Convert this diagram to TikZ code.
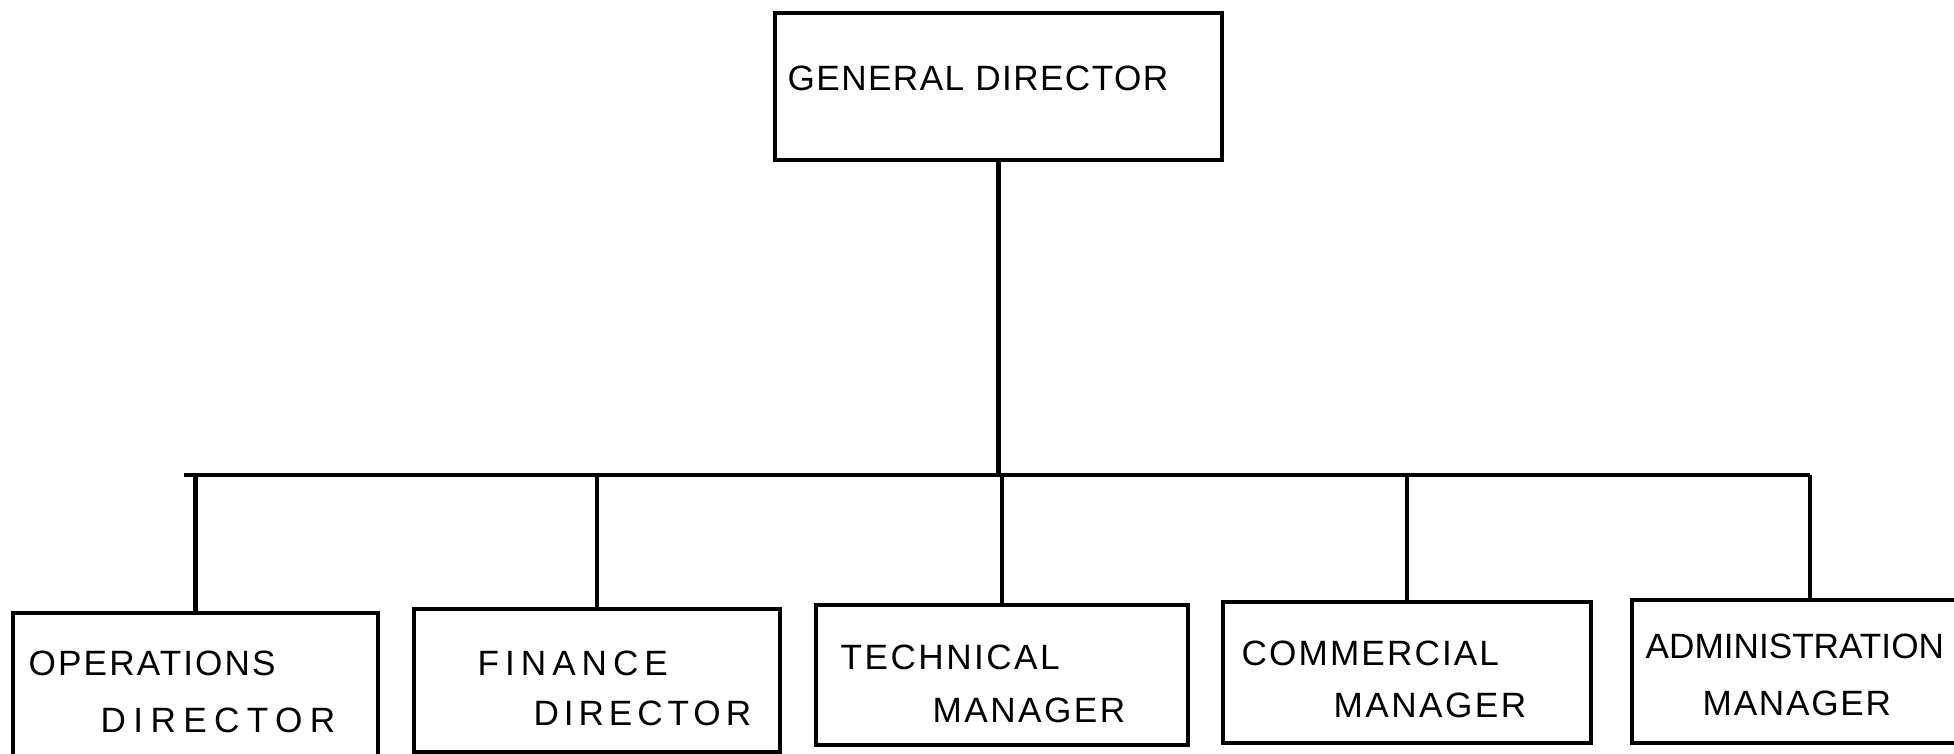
\documentclass[tikz,border=0pt]{standalone}
\usepackage{fontspec}
\setmainfont{Liberation Sans}
\usetikzlibrary{positioning,calc}

\newcommand{\spaced}[2]{{\addfontfeature{LetterSpace=#1}#2}}
\tikzset{
	box/.style={draw, line width=1.05pt, rectangle, inner sep=0pt},
	link/.style={line width=1.35pt},
	lbl/.style={anchor=west, inner sep=0pt, font=\fontsize{10}{12}\selectfont}
}

\begin{document}
\begin{tikzpicture}[x=0.01cm,y=-0.01cm]
					\useasboundingbox (0,0) rectangle (1954,753);
					
					% Top box
					\node[box, minimum width=4.47cm, minimum height=1.47cm] (gd) at (998.5,86.5) {};
					\node[lbl] (gd-t) at (787,78) {\spaced{4}{GENERAL DIRECTOR}};
					
					% Bottom boxes
					\node[box, minimum width=3.65cm, minimum height=1.45cm] (ops) at (195.5,685.5) {};
					\node[box, minimum width=3.66cm, minimum height=1.43cm] (fin) at (597,680.5) {};
					\node[box, minimum width=3.72cm, minimum height=1.40cm] (tec) at (1002,675) {};
					\node[box, minimum width=3.68cm, minimum height=1.41cm] (com) at (1407,672.5) {};
					\node[box, minimum width=3.56cm, minimum height=1.43cm] (adm) at (1810,671.5) {};
					
					\node[lbl] (ops-1) at (28,663) {\spaced{6}{OPERATIONS}};
					\node[lbl] (ops-2) at (100,720) {\spaced{21}{DIRECTOR}};
					\node[lbl] (fin-1) at (477,663) {\spaced{17}{FINANCE}};
					\node[lbl] (fin-2) at (533,713) {\spaced{14}{DIRECTOR}};
					\node[lbl] (tec-1) at (840,657) {\spaced{7}{TECHNICAL}};
					\node[lbl] (tec-2) at (932,710) {\spaced{7}{MANAGER}};
					\node[lbl] (com-1) at (1241,653) {\spaced{6}{COMMERCIAL}};
					\node[lbl] (com-2) at (1333,705) {\spaced{7}{MANAGER}};
					\node[lbl] (adm-1) at (1645,646) {ADMINISTRATION};
					\node[lbl] (adm-2) at (1702,703) {\spaced{5}{MANAGER}};
					
					% Connectors
					\coordinate (busy) at (0,475);
					\draw[link] (gd.south) -- (gd.south |- busy);
					\draw[link] ($(ops.north |- busy)+(-12,0)$) -- (adm.north |- busy);
					\foreach \n in {ops,fin,tec,com,adm}
						\draw[link] (\n.north |- busy) -- (\n.north);
				\end{tikzpicture}
\end{document}
